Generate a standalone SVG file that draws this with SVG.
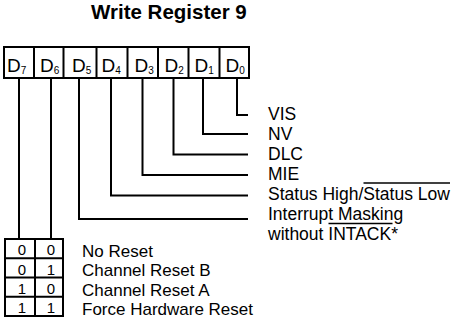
<svg xmlns="http://www.w3.org/2000/svg" width="462" height="321" viewBox="0 0 462 321">
<style>
text{font-family:"Liberation Sans",Arial,sans-serif;fill:#000}
.t{font-size:20.5px;font-weight:bold}
.d{font-size:19px}
.s{font-size:10px}
.l{font-size:17.5px}
.tl{font-size:17px}
.n{font-size:15px;text-anchor:middle}
.ln{fill:none;stroke:#000;stroke-width:2}
.ov{stroke:#000;stroke-width:1.3}
</style>
<rect width="462" height="321" fill="#fff"/>
<text class="t" x="91" y="19">Write Register 9</text>
<g id="register">
<rect class="ln" x="4" y="47" width="245" height="31"/>
<path class="ln" d="M34 47V78M63.5 47V78M96.5 47V78M127.5 47V78M158 47V78M188.5 47V78M219.5 47V78"/>
<text class="d" x="7" y="72">D<tspan class="s" dy="1.5">7</tspan></text>
<text class="d" x="40" y="72">D<tspan class="s" dy="1.5">6</tspan></text>
<text class="d" x="72" y="72">D<tspan class="s" dy="1.5">5</tspan></text>
<text class="d" x="101.5" y="72">D<tspan class="s" dy="1.5">4</tspan></text>
<text class="d" x="134.5" y="72">D<tspan class="s" dy="1.5">3</tspan></text>
<text class="d" x="164.5" y="72">D<tspan class="s" dy="1.5">2</tspan></text>
<text class="d" x="194.5" y="72">D<tspan class="s" dy="1.5">1</tspan></text>
<text class="d" x="225.5" y="72">D<tspan class="s" dy="1.5">0</tspan></text>
</g>
<g id="connectors">
<path class="ln" d="M237 78V115H248"/>
<path class="ln" d="M203 78V134H248"/>
<path class="ln" d="M173.5 78V154.5H248"/>
<path class="ln" d="M142.5 78V175H248"/>
<path class="ln" d="M111 78V195.5H248"/>
<path class="ln" d="M79 78V219H248"/>
<path class="ln" d="M19 78V239"/>
<path class="ln" d="M51 78V239"/>
</g>
<g id="labels">
<text class="l" x="268" y="120">VIS</text>
<text class="l" x="268" y="140">NV</text>
<text class="l" x="268" y="160">DLC</text>
<text class="l" x="268" y="180">MIE</text>
<text class="l" x="268" y="200">Status High/Status Low</text>
<line class="ov" x1="363.5" y1="183" x2="450" y2="183"/>
<text class="l" x="268" y="220">Interrupt Masking</text>
<text class="l" x="268" y="240">without INTACK*</text>
<line class="ov" x1="328.5" y1="223.5" x2="392.5" y2="223.5"/>
</g>
<g id="reset-table">
<rect class="ln" x="5" y="239" width="58" height="77"/>
<path class="ln" d="M35 239V316M5 258.25H63M5 277.5H63M5 296.75H63"/>
<text class="n" x="22" y="255">0</text><text class="n" x="51" y="255">0</text>
<text class="n" x="22" y="274.5">0</text><text class="n" x="51" y="274.5">1</text>
<text class="n" x="22" y="294">1</text><text class="n" x="51" y="294">0</text>
<text class="n" x="22" y="313">1</text><text class="n" x="51" y="313">1</text>
<text class="tl" x="82" y="257">No Reset</text>
<text class="tl" x="82" y="276.3">Channel Reset B</text>
<text class="tl" x="82" y="295.6">Channel Reset A</text>
<text class="tl" x="82" y="315">Force Hardware Reset</text>
</g>
</svg>
